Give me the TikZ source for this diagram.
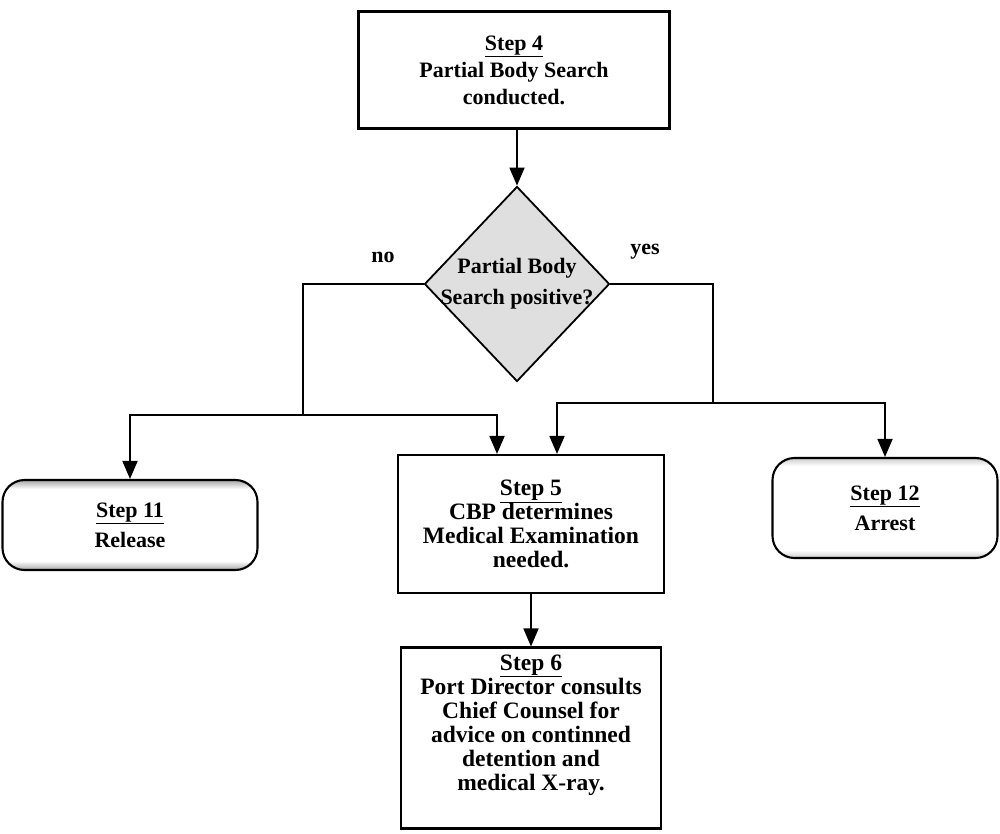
\documentclass[tikz,border=0pt]{standalone}
\usepackage{fontspec}
\setmainfont{Liberation Serif}
\usetikzlibrary{arrows.meta,shapes.geometric}

% stippled bands along the top and bottom edges of the terminal boxes
\pgfdeclareverticalshading{edgebanddark}{100bp}{color(0bp)=(gray!70); color(25bp)=(gray!70); color(30bp)=(white); color(70bp)=(white); color(75bp)=(gray!70); color(100bp)=(gray!70)}
\pgfdeclareverticalshading{edgebandlight}{100bp}{color(0bp)=(gray!40); color(25bp)=(gray!40); color(29bp)=(white); color(71bp)=(white); color(75bp)=(gray!40); color(100bp)=(gray!40)}

\begin{document}
\begin{tikzpicture}[x=1pt,y=-1pt,
  font=\bfseries\fontsize{22}{27}\selectfont,
  box/.style={draw, line width=2.1pt, align=center, inner sep=0pt},
  big/.style={font=\bfseries\fontsize{23.5}{24}\selectfont},
  term/.style={box, rounded corners=22pt, font=\bfseries\fontsize{22}{30}\selectfont},
  arr/.style={line width=1.8pt, -{Triangle[width=15pt,length=18pt]}},
  link/.style={line width=1.8pt}
]
\useasboundingbox (0,0) rectangle (1000,834);

% process boxes
\node[box, minimum width=311pt, minimum height=117pt] (s4) at (514,70)
  {\underline{Step 4}\\Partial Body Search\\conducted.};
\node[box, big, minimum width=266pt, minimum height=138pt] (s5) at (531,524)
  {\underline{Step 5}\\CBP determines\\Medical Examination\\needed.};
\node[box, minimum width=260pt, minimum height=181pt] (s6) at (531,738) {};
\node[big, align=center] (s6t) at ([yshift=13pt]s6.center)
  {\underline{Step 6}\\Port Director consults\\Chief Counsel for\\advice on continned\\detention and\\medical X-ray.};

% decision
\node[diamond, draw, line width=1.8pt, fill=gray!25, inner sep=0pt,
      minimum width=185pt, minimum height=195pt] (d) at (517,284) {};
\node[align=center, font=\bfseries\fontsize{22}{31}\selectfont] (dq) at (d.center)
  {Partial Body\\Search positive?};

% terminals
\node[term, shading=edgebanddark, minimum width=255pt, minimum height=90pt] (rel) at (130,525)
  {\underline{Step 11}\\Release};
\node[term, shading=edgebandlight, minimum width=225pt, minimum height=100pt] (arrest) at (885,508)
  {\underline{Step 12}\\Arrest};

% branch labels
\node (no) at (383,257) {no};
\node (yes) at (645,252) {yes};

% junctions of the branch lines
\coordinate (nj) at (303,415);
\coordinate (yj) at (713,403);

% connectors
\draw[arr] (s4.south -| d.north) -- (d.north);
\draw[link] (d.west) -| (nj);
\draw[arr] (nj) -| (rel.north);
\draw[arr] (nj) -| ([xshift=-34pt]s5.north);
\draw[link] (d.east) -| (yj);
\draw[arr] (yj) -| ([xshift=26pt]s5.north);
\draw[arr] (yj) -| (arrest.north);
\draw[arr] (s5.south) -- (s6.north);
\end{tikzpicture}
\end{document}
